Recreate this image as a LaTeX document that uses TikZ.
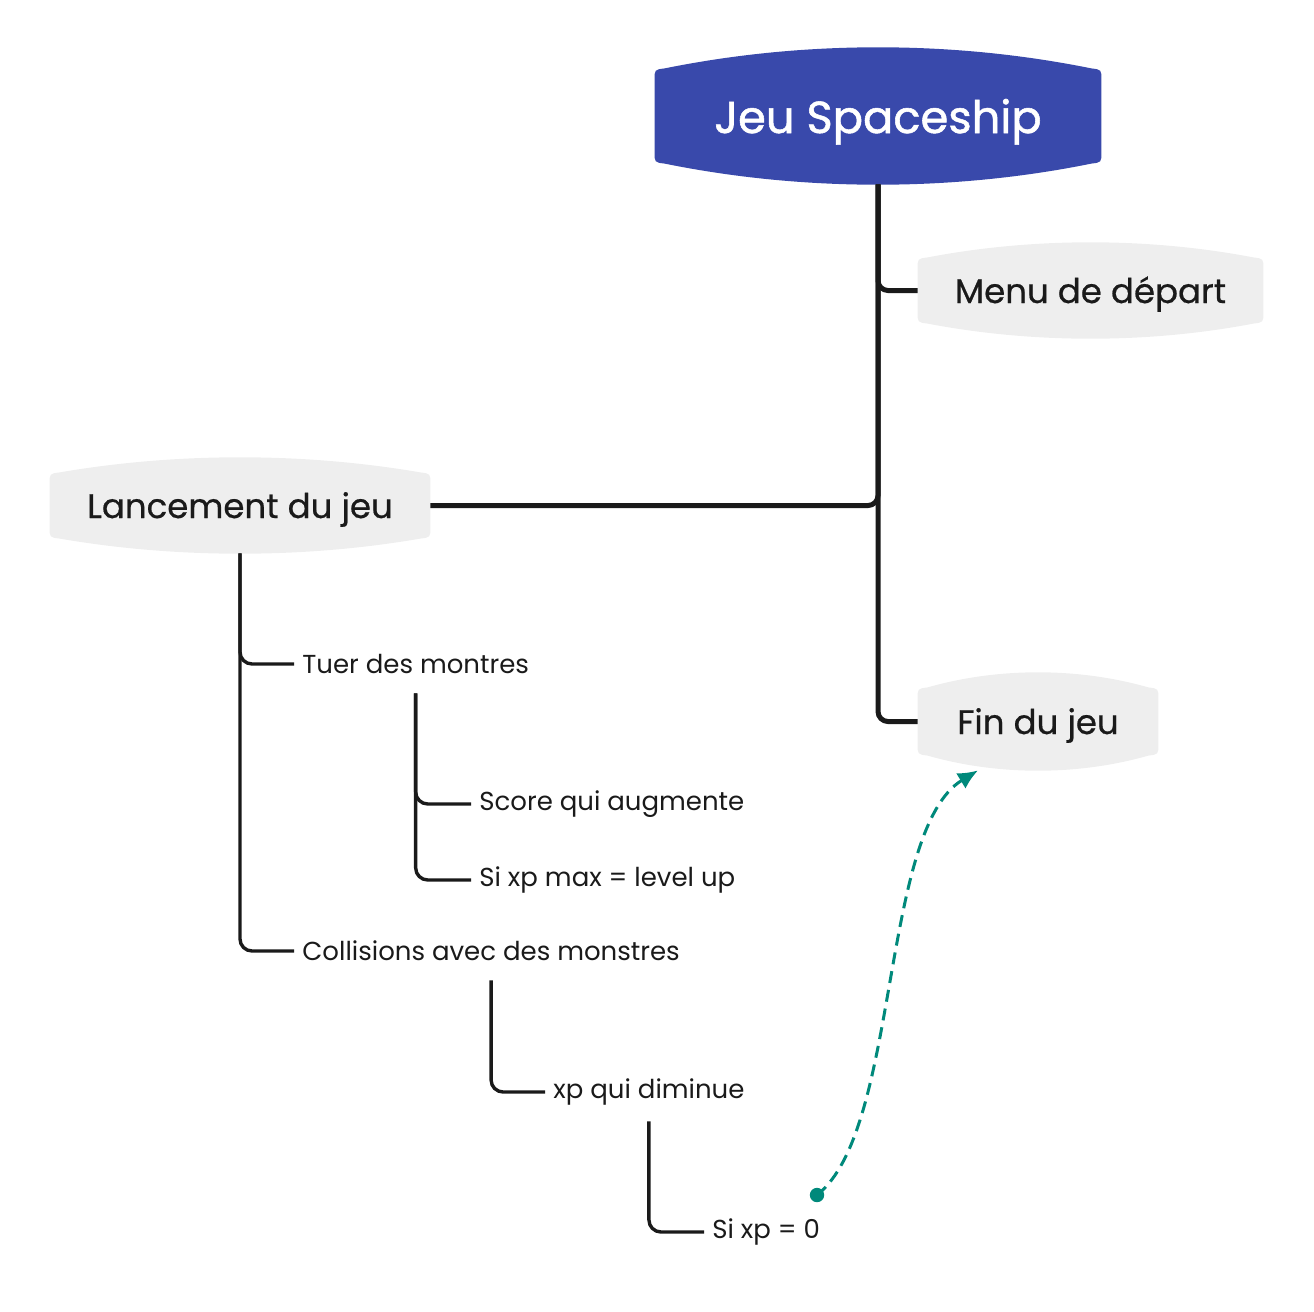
\documentclass[tikz,border=0pt]{standalone}
\usepackage{fontspec}
\setmainfont{Poppins}
\usetikzlibrary{calc,arrows.meta,backgrounds}

\definecolor{rootblue}{HTML}{3949AB}
\definecolor{topicgray}{HTML}{EEEEEE}
\definecolor{inktext}{HTML}{1A1A1A}
\definecolor{relteal}{HTML}{00897B}

% barrel shaped background of a topic: node, bulge, colour
\newcommand\capsulefill[3]{%
  \fill[#3] let \p1=(#1.south west), \p2=(#1.north east), \n1={(\x2-\x1)/3} in
    (\x1,\y1+#2+5pt) -- (\x1,\y2-#2-5pt)
    .. controls (\x1,\y2-#2) .. (\x1+5pt,\y2-#2+0.6pt)
    .. controls ({\x1+\n1*1pt},{\y2+#2/3}) and ({\x2-\n1*1pt},{\y2+#2/3}) .. (\x2-5pt,\y2-#2+0.6pt)
    .. controls (\x2,\y2-#2) .. (\x2,\y2-#2-5pt)
    -- (\x2,\y1+#2+5pt)
    .. controls (\x2,\y1+#2) .. (\x2-5pt,\y1+#2-0.6pt)
    .. controls ({\x2-\n1*1pt},{\y1-#2/3}) and ({\x1+\n1*1pt},{\y1-#2/3}) .. (\x1+5pt,\y1+#2-0.6pt)
    .. controls (\x1,\y1+#2) .. cycle;}

\begin{document}
\begin{tikzpicture}[x=0.5pt, y=-0.5pt,
    topic/.style={inner sep=0pt, text height=14pt, text depth=1.5pt, text=inktext,
        font=\fontsize{17}{20}\selectfont\addfontfeature{FakeBold=0.6}},
    leaf/.style={anchor=west, inner xsep=4pt, inner ysep=0pt, minimum height=29pt,
        text=inktext, font=\fontsize{13}{16}\selectfont},
    trunk/.style={line width=2.5pt, draw=inktext, rounded corners=5pt},
    twig/.style={line width=1.7pt, draw=inktext, rounded corners=6pt},
    relation/.style={line width=1.5pt, draw=relteal, dash pattern=on 6pt off 3.5pt,
        -{Latex[length=10pt,width=9pt]}}]
    \useasboundingbox (0,0) rectangle (1314,1312);
    \node[topic, minimum width=223pt, minimum height=68pt, text=white, text height=19pt,
        text depth=2pt, font=\fontsize{22.4}{26}\selectfont\addfontfeature{FakeBold=1.2}] (root) at (878,116) {Jeu Spaceship};
    \node[topic, minimum width=172.5pt, minimum height=47.5pt] (menu) at (1090.5,290.5) {Menu de départ};
    \node[topic, minimum width=190pt, minimum height=47.5pt] (lanc) at (240,505.5) {Lancement du jeu};
    \node[topic, minimum width=120pt, minimum height=48.5pt] (fin) at (1038,721.5) {Fin du jeu};

    \node[leaf] (tuer) at (294,664) {Tuer des montres};
    \node[leaf] (score) at (471,804) {Score qui augmente};
    \node[leaf] (lvlup) at (471,880) {Si xp max = level up};
    \node[leaf] (coll) at (294,951) {Collisions avec des monstres};
    \node[leaf] (xpdim) at (545,1092) {xp qui diminue};
    \node[leaf] (xpzero) at (704,1232) {Si xp = 0};

    \begin{scope}[on background layer]
        \capsulefill{root}{11pt}{rootblue}
        \capsulefill{menu}{8pt}{topicgray}
        \capsulefill{lanc}{8pt}{topicgray}
        \capsulefill{fin}{8pt}{topicgray}
    \end{scope}

    \draw[trunk] (root.south) |- (menu.west);
    \draw[trunk] (root.south) |- (lanc.east);
    \draw[trunk] (root.south) |- (fin.west);

    \draw[twig] (lanc.south) |- (tuer.west);
    \draw[twig] (lanc.south) |- (coll.west);
    \draw[twig] (tuer.south) |- (score.west);
    \draw[twig] (tuer.south) |- (lvlup.west);
    \draw[twig] (coll.south) |- (xpdim.west);
    \draw[twig] (xpdim.south) |- (xpzero.west);

    % relationship Si xp = 0 -> Fin du jeu
    \coordinate (relstart) at (817,1195);
    \fill[relteal] (relstart) circle (3.6pt);
    \draw[relation] (relstart) .. controls +(83,-65) and +(-98,60) .. ([xshift=-30pt]fin.south);
\end{tikzpicture}
\end{document}
